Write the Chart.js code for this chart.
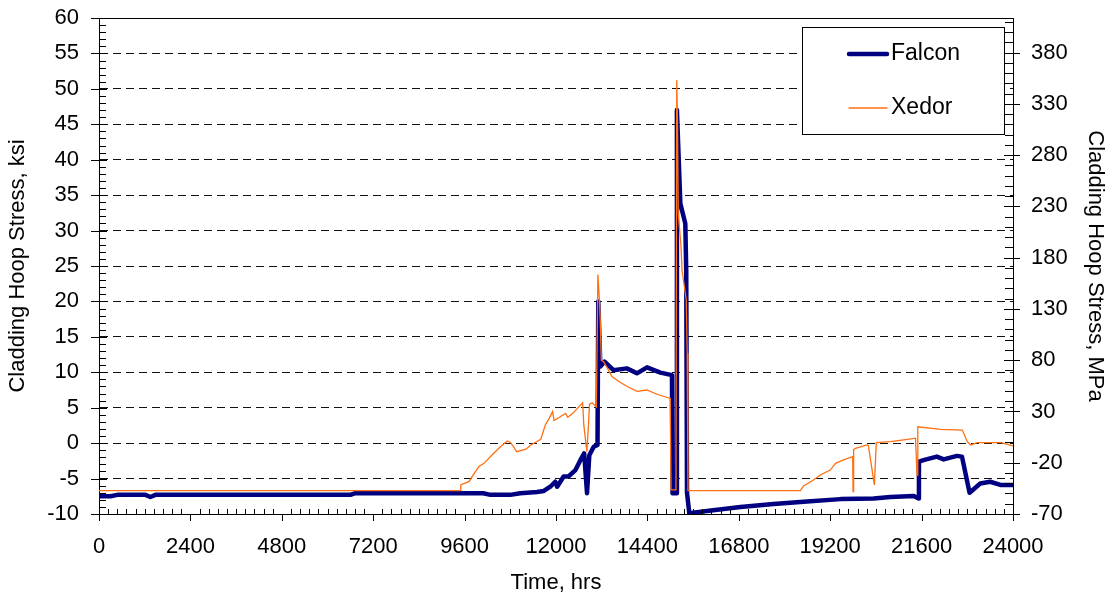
<!DOCTYPE html>
<html>
<head>
<meta charset="utf-8">
<title>Cladding Hoop Stress</title>
<script src="https://cdn.jsdelivr.net/npm/chart.js@4.4.1/dist/chart.umd.min.js"></script>
<style>
    body { margin: 0; background: #fff; }
    #wrap { width: 1114px; height: 598px; }
</style>
</head>
<body>
<div id="wrap"><canvas id="myChart" width="1114" height="598"></canvas></div>
<script>
// valori (ore, ksi)
let falconHours = [0, 300, 480, 1220, 1350, 1480, 6600, 6730, 10090, 10280, 10800, 11060, 11500, 11680, 11850, 11980,
    12030, 12200, 12330, 12510, 12640, 12740, 12815, 12875, 12990, 13090, 13110, 13165, 13275, 13510, 13860, 14125,
    14390, 14740, 15045, 15060, 15160, 15175, 15265, 15395, 15420, 15440, 15500, 16070, 16845, 17710, 18155, 18590,
    19470, 20340, 20780, 21395, 21510, 21530, 21650, 22000, 22180, 22530, 22660, 22860, 23140, 23400, 23670, 24000];
let falconKsi = [-7.5, -7.5, -7.3, -7.3, -7.6, -7.3, -7.3, -7.05, -7.07, -7.3, -7.3, -7.07, -6.9, -6.75, -6.15, -5.45,
    -6.15, -4.7, -4.7, -3.8, -2.4, -1.45, -7.07, -1.7, -0.5, -0.25, 20.0, 10.8, 11.5, 10.3, 10.55, 9.85,
    10.7, 9.95, 9.6, -7.07, -7.07, 47.0, 33.8, 31.0, 24.2, -7.0, -9.9, -9.5, -9.0, -8.6, -8.4, -8.25,
    -7.9, -7.8, -7.6, -7.45, -7.8, -2.6, -2.4, -1.9, -2.3, -1.8, -1.9, -7.0, -5.7, -5.45, -5.9, -5.9];

let xedorHours = [0, 9488, 9500, 9720, 9800, 9975, 10110, 10320, 10500, 10720, 10810, 10970, 11210, 11340, 11600, 11720,
    11820, 11910, 11950, 12090, 12250, 12310, 12440, 12700, 12730, 12810, 12850, 12880, 12950, 13060, 13100, 13140,
    13165, 13190, 13250, 13380, 13470, 13650, 13870, 14130, 14390, 14650, 15000, 15020, 15150, 15170, 15190, 15210,
    15280, 15310, 15420, 15445, 15465, 18416, 18500, 18760, 18940, 19200, 19340, 19550, 19790, 19800, 19815, 19860,
    20170, 20200, 20360, 20410, 20780, 21130, 21440, 21480, 21500, 22100, 22670, 22800, 22890, 23060, 23690, 24000];
let xedorKsi = [-6.7, -6.7, -5.9, -5.4, -4.7, -3.3, -2.85, -1.67, -0.73, 0.3, 0.07, -1.2, -0.86, -0.25, 0.55, 2.57,
    3.5, 4.45, 3.2, 3.65, 4.2, 3.65, 4.2, 5.7, 2.57, -1.2, 2.3, 5.5, 5.7, 5.1, 23.8, 20.2,
    16.9, 11.7, 11.5, 10.3, 9.4, 8.7, 8.0, 7.3, 7.5, 6.9, 6.3, -6.6, -6.6, 51.2, 45.4, 32.4,
    28.0, 24.4, 20.2, 12.7, -6.7, -6.7, -6.04, -5.2, -4.5, -3.8, -2.85, -2.37, -1.9, -6.85, -0.9, -0.73,
    -0.25, -0.3, -5.9, 0.07, 0.2, 0.45, 0.7, -4.5, 2.3, 1.95, 1.84, 0.2, -0.25, 0.07, 0.07, -0.4];

let xTicks = [0, 2400, 4800, 7200, 9600, 12000, 14400, 16800, 19200, 21600, 24000];
let ksiTicks = [-10, -5, 0, 5, 10, 15, 20, 25, 30, 35, 40, 45, 50, 55, 60];
let mpaTicks = [-70, -20, 30, 80, 130, 180, 230, 280, 330, 380];

const FONT = "'Liberation Sans', Arial, sans-serif";

function punti(hours, values)
{
    let ris = [];
    for (let i = 0; i < hours.length; i++)
        ris.push({x: hours[i], y: values[i]});
    return ris;
}

// tacche principali e secondarie + bordo superiore
const tacche = {
    id: "tacche",
    afterDraw(chart)
    {
        let ctx = chart.ctx;
        let a = chart.chartArea;
        let sx = chart.scales.x, sy = chart.scales.y, sy2 = chart.scales.y2;
        ctx.save();
        ctx.strokeStyle = "#000";
        ctx.lineWidth = 1;
        ctx.beginPath();
        let top = Math.round(a.top) + 0.5;
        ctx.moveTo(a.left, top);
        ctx.lineTo(a.right, top);
        let b = Math.round(a.bottom);
        for (let v = xTicks[0]; v <= xTicks[xTicks.length - 1]; v += 240)
        {
            let px = Math.round(sx.getPixelForValue(v)) + 0.5;
            if (v % 2400 == 0) { ctx.moveTo(px, b); ctx.lineTo(px, b + 7); }
            else { ctx.moveTo(px, b); ctx.lineTo(px, b - 5); }
        }
        let l = Math.round(a.left);
        for (let v = ksiTicks[0]; v <= ksiTicks[ksiTicks.length - 1]; v += 1)
        {
            let py = Math.round(sy.getPixelForValue(v)) + 0.5;
            if (v % 5 == 0) { ctx.moveTo(l - 8, py); ctx.lineTo(l + 8, py); }
            else { ctx.moveTo(l, py); ctx.lineTo(l + 7, py); }
        }
        let r = Math.round(a.right);
        for (let v = mpaTicks[0]; v <= sy2.max; v += 10)
        {
            let py = Math.round(sy2.getPixelForValue(v)) + 0.5;
            if ((v - mpaTicks[0]) % 50 == 0) { ctx.moveTo(r - 9, py); ctx.lineTo(r + 7, py); }
            else { ctx.moveTo(r - 8, py); ctx.lineTo(r, py); }
        }
        ctx.stroke();
        ctx.restore();
    }
};

// legenda nel riquadro in alto a destra
const legenda = {
    id: "legenda",
    afterDraw(chart)
    {
        let ctx = chart.ctx;
        let a = chart.chartArea;
        let w = 202, h = 107;
        let left = Math.round(a.right - 211), top = Math.round(a.top + 9);
        ctx.save();
        ctx.fillStyle = "#fff";
        ctx.fillRect(left, top, w, h);
        ctx.strokeStyle = "#000";
        ctx.lineWidth = 1;
        ctx.strokeRect(left + 0.5, top + 0.5, w, h);
        ctx.font = "23px " + FONT;
        ctx.textBaseline = "middle";
        ctx.textAlign = "left";
        chart.data.datasets.forEach(function (ds, i)
        {
            let y = top + 27 + i * 54;
            ctx.beginPath();
            ctx.lineCap = "round";
            ctx.strokeStyle = ds.borderColor;
            ctx.lineWidth = ds.borderWidth;
            ctx.moveTo(left + 47, y);
            ctx.lineTo(left + 85, y);
            ctx.stroke();
            ctx.fillStyle = "#000";
            ctx.fillText(ds.label, left + 89, y);
        });
        ctx.restore();
    }
};

// larghezza fissa degli assi verticali, senza margine extra sopra
function fissaAsse(larghezza)
{
    return function (scale)
    {
        scale.width = larghezza;
        scale.paddingTop = 0;
        scale.paddingBottom = 0;
    };
}

Chart.defaults.font.family = FONT;
Chart.defaults.font.size = 22;
Chart.defaults.color = "#000";

let chart = new Chart(document.getElementById("myChart"), {
    type: "line",
    data: {
        datasets: [
            {
                label: "Falcon",
                data: punti(falconHours, falconKsi),
                borderColor: "#000080",
                borderWidth: 4.5,
                borderJoinStyle: "round",
                borderCapStyle: "round",
                pointRadius: 0,
                tension: 0,
                order: 1,
                yAxisID: "y"
            },
            {
                label: "Xedor",
                data: punti(xedorHours, xedorKsi),
                borderColor: "#ff7010",
                borderWidth: 1.3,
                pointRadius: 0,
                tension: 0,
                order: 0,
                yAxisID: "y"
            }
        ]
    },
    options: {
        responsive: false,
        animation: false,
        devicePixelRatio: 1,
        layout: { padding: { top: 18, left: 0, right: 0, bottom: 0 } },
        plugins: {
            legend: { display: false },
            tooltip: { enabled: false }
        },
        scales: {
            x: {
                type: "linear",
                min: xTicks[0],
                max: xTicks[xTicks.length - 1],
                afterBuildTicks: function (scale) { scale.ticks = xTicks.map(v => ({value: v})); },
                afterFit: function (scale) { scale.height = 84; },
                ticks: { autoSkip: false, maxRotation: 0, padding: 20, callback: v => String(v) },
                grid: { drawOnChartArea: false, drawTicks: false },
                border: { color: "#000", width: 1 },
                title: { display: true, text: "Time, hrs", padding: { top: 0, bottom: 2 } }
            },
            y: {
                position: "left",
                min: ksiTicks[0],
                max: ksiTicks[ksiTicks.length - 1],
                afterBuildTicks: function (scale) { scale.ticks = ksiTicks.map(v => ({value: v})); },
                afterFit: fissaAsse(99),
                ticks: { padding: 20, callback: v => String(v) },
                grid: {
                    drawTicks: false,
                    color: c => (c.tick && (c.tick.value == ksiTicks[0] || c.tick.value == ksiTicks[ksiTicks.length - 1])) ? "rgba(0,0,0,0)" : "#111",
                    lineWidth: 1
                },
                border: { color: "#000", width: 1, dash: [8, 5] },
                title: { display: true, text: "Cladding Hoop Stress, ksi", padding: { top: 5, bottom: 0 } }
            },
            y2: {
                position: "right",
                min: mpaTicks[0],
                max: 413.8,
                afterBuildTicks: function (scale) { scale.ticks = mpaTicks.map(v => ({value: v})); },
                afterFit: fissaAsse(101),
                ticks: { padding: 18, callback: v => String(v) },
                grid: { drawOnChartArea: false, drawTicks: false },
                border: { color: "#000", width: 1 },
                title: { display: true, text: "Cladding Hoop Stress, MPa", padding: { top: 6, bottom: 0 } }
            }
        }
    },
    plugins: [tacche, legenda]
});
</script>
</body>
</html>
